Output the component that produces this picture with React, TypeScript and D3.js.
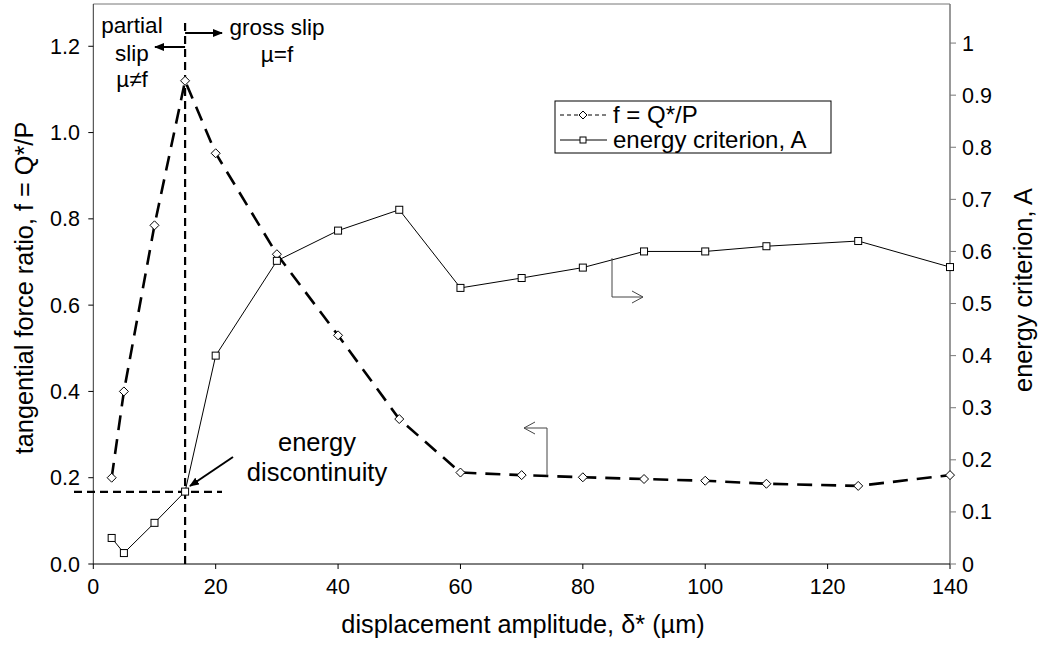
import React from "react";
import * as d3 from "d3";

// Displacement amplitude (µm)
const displacement = [3, 5, 10, 15, 20, 30, 40, 50, 60, 70, 80, 90, 100, 110, 125, 140];
// Tangential force ratio f = Q*/P
const forceRatio = [0.2, 0.4, 0.785, 1.12, 0.952, 0.718, 0.53, 0.336, 0.212, 0.206, 0.201, 0.197, 0.193, 0.186, 0.181, 0.206];
// Energy criterion A
const energyA = [0.05, 0.021, 0.079, 0.139, 0.4, 0.582, 0.64, 0.68, 0.53, 0.549, 0.569, 0.6, 0.6, 0.61, 0.62, 0.57];

const xTicks = [0, 20, 40, 60, 80, 100, 120, 140];
const leftTicks = [0, 0.2, 0.4, 0.6, 0.8, 1.0, 1.2];
const rightTicks = [0, 0.1, 0.2, 0.3, 0.4, 0.5, 0.6, 0.7, 0.8, 0.9, 1];

const transitionX = 15;
const transitionF = 0.167;

const W = 1045;
const H = 649;
const L = 93.3;
const R = 950;
const T = 4;
const B = 564;
const FONT = "'Liberation Sans', Arial, Helvetica, sans-serif";
const TICK_FS = 21.5;
const TITLE_FS = 25.3;
const NOTE_FS = 22.5;
const LEGEND_FS = 24;

export default function App() {
  const x = d3.scaleLinear().domain([0, 140]).range([L, R]);
  const yL = d3.scaleLinear().domain([0, 1.298]).range([B, T]);
  const yR = d3.scaleLinear().domain([0, 1.075]).range([B, T]);

  const lineF = d3
    .line<number>()
    .x((_, i) => x(displacement[i]))
    .y((d) => yL(d));
  const lineA = d3
    .line<number>()
    .x((_, i) => x(displacement[i]))
    .y((d) => yR(d));

  const diamond = (cx: number, cy: number, r = 4.5) =>
    `M${cx},${cy - r}L${cx + r},${cy}L${cx},${cy + r}L${cx - r},${cy}Z`;

  const vx = x(transitionX);
  const hy = yL(transitionF);

  return (
    <svg width={W} height={H} style={{ display: "block", position: "absolute", left: 0, top: 0 }} fontFamily={FONT}>
      <defs>
        <marker id="solidHead" markerWidth="10" markerHeight="8" refX="9" refY="4" orient="auto" markerUnits="userSpaceOnUse">
          <path d="M0,0L10,4L0,8Z" fill="#000" />
        </marker>
        <marker id="openHead" markerWidth="14" markerHeight="14" refX="12" refY="7" orient="auto" markerUnits="userSpaceOnUse">
          <path d="M1,1L12,7L1,13" fill="none" stroke="#444" strokeWidth="1" />
        </marker>
      </defs>
      <rect width={W} height={H} fill="#fff" />

      {/* frame: top edge and axes */}
      <line x1={L} x2={R} y1={T} y2={T} stroke="#777" strokeWidth={1} />
      <line x1={L} x2={L} y1={T} y2={B} stroke="#333" strokeWidth={1} />
      <line x1={R} x2={R} y1={T} y2={B} stroke="#777" strokeWidth={1.5} />
      <line x1={L} x2={R} y1={B} y2={B} stroke="#000" strokeWidth={1} />

      {/* x ticks */}
      {xTicks.map((t) => (
        <g key={`x${t}`}>
          <line x1={x(t)} x2={x(t)} y1={B} y2={B + 5} stroke="#000" />
          <text x={x(t)} y={B + 30} fontSize={TICK_FS} textAnchor="middle">{t}</text>
        </g>
      ))}
      {/* left ticks */}
      {leftTicks.map((t) => (
        <g key={`l${t}`}>
          <line x1={L - 5} x2={L} y1={yL(t)} y2={yL(t)} stroke="#000" />
          <text x={80} y={yL(t) + 7.5} fontSize={TICK_FS} textAnchor="end">{t.toFixed(1)}</text>
        </g>
      ))}
      {/* right ticks */}
      {rightTicks.map((t) => (
        <g key={`r${t}`}>
          <line x1={R} x2={R + 6} y1={yR(t)} y2={yR(t)} stroke="#777" />
          <text x={R + 12} y={yR(t) + 7.5} fontSize={TICK_FS} textAnchor="start">{t}</text>
        </g>
      ))}

      {/* axis titles */}
      <text x={523} y={633} fontSize={TITLE_FS} textAnchor="middle">displacement amplitude, δ* (µm)</text>
      <text transform={`translate(33,288) rotate(-90)`} fontSize={TITLE_FS} textAnchor="middle">
        tangential force ratio, f = Q*/P
      </text>
      <text transform={`translate(1032,290) rotate(-90)`} fontSize={TITLE_FS} textAnchor="middle">
        energy criterion, A
      </text>

      {/* transition guides */}
      <line x1={vx} x2={vx} y1={23} y2={B + 2} stroke="#000" strokeWidth={2.2} strokeDasharray="8,5" />
      <line x1={74} x2={222} y1={hy} y2={hy} stroke="#000" strokeWidth={2.2} strokeDasharray="8,5" />

      {/* regime arrows */}
      <line x1={vx} x2={222} y1={33} y2={33} stroke="#000" strokeWidth={2} markerEnd="url(#solidHead)" />
      <line x1={vx} x2={155} y1={47} y2={47} stroke="#000" strokeWidth={2} markerEnd="url(#solidHead)" />
      <text fontSize={NOTE_FS} textAnchor="middle">
        <tspan x={132} y={33}>partial</tspan>
        <tspan x={132} y={61}>slip</tspan>
        <tspan x={132} y={87}>µ≠f</tspan>
      </text>
      <text fontSize={NOTE_FS} textAnchor="middle">
        <tspan x={277} y={35}>gross slip</tspan>
        <tspan x={277} y={62}>µ=f</tspan>
      </text>

      {/* energy discontinuity annotation */}
      <text fontSize={25.5} textAnchor="middle">
        <tspan x={317} y={451}>energy</tspan>
        <tspan x={317} y={481}>discontinuity</tspan>
      </text>
      <line x1={233} x2={190} y1={457} y2={486} stroke="#000" strokeWidth={2} markerEnd="url(#solidHead)" />

      {/* series: force ratio */}
      <path d={lineF(forceRatio) ?? ""} fill="none" stroke="#000" strokeWidth={2.6} strokeDasharray="15,9" />
      {forceRatio.map((v, i) => (
        <path key={`d${i}`} d={diamond(x(displacement[i]), yL(v))} fill="#fff" stroke="#000" strokeWidth={1} />
      ))}

      {/* series: energy criterion */}
      <path d={lineA(energyA) ?? ""} fill="none" stroke="#000" strokeWidth={1} />
      {energyA.map((v, i) => (
        <rect key={`s${i}`} x={x(displacement[i]) - 3.5} y={yR(v) - 3.5} width={7} height={7} fill="#fff" stroke="#000" strokeWidth={1} />
      ))}

      {/* axis-pointer arrows */}
      <path d={`M612,${yR(0.587)}L612,297L643,297`} fill="none" stroke="#444" strokeWidth={1} markerEnd="url(#openHead)" />
      <path d={`M547,${yL(0.205)}L547,428L524,428`} fill="none" stroke="#444" strokeWidth={1} markerEnd="url(#openHead)" />

      {/* legend */}
      <rect x={555} y={101} width={276} height={52} fill="#fff" stroke="#000" strokeWidth={1} />
      <line x1={560} x2={607} y1={115} y2={115} stroke="#000" strokeWidth={1} strokeDasharray="4,3" />
      <path d={diamond(583, 115, 4)} fill="#fff" stroke="#000" />
      <text x={613} y={123} fontSize={LEGEND_FS}>f = Q*/P</text>
      <line x1={560} x2={607} y1={140} y2={140} stroke="#000" strokeWidth={1} />
      <rect x={580} y={137} width={6} height={6} fill="#fff" stroke="#000" />
      <text x={613} y={148} fontSize={LEGEND_FS}>energy criterion, A</text>
    </svg>
  );
}
